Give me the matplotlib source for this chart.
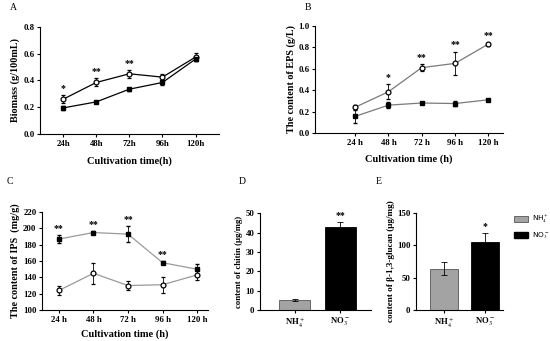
import numpy as np
import matplotlib
matplotlib.use("Agg")
import matplotlib.pyplot as plt
from matplotlib.patches import Patch

plt.rcParams['font.family'] = ['Liberation Serif', 'DejaVu Serif']
plt.rcParams['mathtext.fontset'] = 'stix'

# ---- data ----
times_a = ["24h", "48h", "72h", "96h", "120h"]
times = ["24 h", "48 h", "72 h", "96 h", "120 h"]

bio_no3 = [0.26, 0.385, 0.45, 0.425, 0.575]
bio_no3_err = [0.03, 0.03, 0.03, 0.025, 0.03]
bio_nh4 = [0.195, 0.24, 0.335, 0.385, 0.56]
bio_nh4_err = [0.015, 0.01, 0.01, 0.02, 0.012]
bio_stars = ["*", "**", "**", "", ""]

eps_no3 = [0.24, 0.385, 0.61, 0.65, 0.83]
eps_no3_err = [0.02, 0.07, 0.03, 0.11, 0.015]
eps_nh4 = [0.155, 0.26, 0.28, 0.275, 0.31]
eps_nh4_err = [0.06, 0.03, 0.01, 0.02, 0.01]
eps_stars = ["", "*", "**", "**", "**"]

ips_nh4 = [187, 195, 193, 158, 150]
ips_nh4_err = [5, 2, 10, 2, 6]
ips_no3 = [124, 145, 130, 131, 143]
ips_no3_err = [5, 13, 6, 10, 6]
ips_stars = ["**", "**", "**", "**", ""]

ions = ["NH$_4^+$", "NO$_3^-$"]
chitin = [5, 43]
chitin_err = [0.5, 2.5]
chitin_stars = ["", "**"]
glucan = [64, 106]
glucan_err = [10, 13]
glucan_stars = ["", "*"]

fig = plt.figure(figsize=(5.5, 3.41), dpi=100)


def style(ax):
    ax.spines['top'].set_visible(False)
    ax.spines['right'].set_visible(False)
    ax.tick_params(direction='out', length=2.5, width=0.8, labelsize=6.3, pad=1.5)
    for lab in ax.get_xticklabels() + ax.get_yticklabels():
        lab.set_fontweight('bold')


def line_panel(ax, labels, up, up_err, lo, lo_err, stars, lcolor, xlim, ylim, yticks, fmt):
    x = np.arange(len(labels))
    ax.errorbar(x, up, yerr=up_err, color=lcolor, lw=0.9, marker='o', ms=3.5,
                mfc='white', mec='black', mew=0.9, ecolor='black', elinewidth=0.6, capsize=1.5)
    ax.errorbar(x, lo, yerr=lo_err, color=lcolor, lw=0.9, marker='s', ms=3.5,
                mfc='black', mec='black', ecolor='black', elinewidth=0.6, capsize=1.5)
    top = np.maximum(np.array(up) + np.array(up_err), np.array(lo) + np.array(lo_err))
    off = (ylim[1] - ylim[0]) * 0.02
    for i, s in enumerate(stars):
        if s:
            ax.text(x[i], top[i] + off, s, ha='center', va='bottom', fontsize=7, fontweight='bold')
    ax.set_xticks(x)
    ax.set_xticklabels(labels)
    ax.set_xlim(*xlim)
    ax.set_ylim(*ylim)
    ax.set_yticks(yticks)
    ax.set_yticklabels([fmt.format(v) for v in yticks])
    style(ax)


def bar_panel(ax, vals, errs, stars, xlim, ylim, yticks):
    x = np.arange(len(vals))
    colors = ['#a3a3a3', 'black']
    ax.bar(x, vals, width=0.68, color=colors, edgecolor=['#555555', 'black'], lw=0.6,
           yerr=errs, error_kw=dict(ecolor='black', elinewidth=0.6, capsize=2.5, capthick=0.6))
    off = (ylim[1] - ylim[0]) * 0.02
    for i, s in enumerate(stars):
        if s:
            ax.text(x[i], vals[i] + errs[i] + off, s, ha='center', va='bottom', fontsize=7, fontweight='bold')
    ax.set_xticks(x)
    ax.set_xticklabels(ions)
    ax.set_xlim(*xlim)
    ax.set_ylim(*ylim)
    ax.set_yticks(yticks)
    style(ax)
    return ax


# A
axA = fig.add_axes([0.0727, 0.607, 0.325, 0.314])
line_panel(axA, times_a, bio_no3, bio_no3_err, bio_nh4, bio_nh4_err, bio_stars, 'black',
           (-0.7, 4.7), (0, 0.8), [0, 0.2, 0.4, 0.6, 0.8], "{:.1f}")
axA.set_ylabel("Biomass (g/100mL)", fontsize=7.3, fontweight='bold', labelpad=2)
axA.set_xlabel("Cultivation time(h)", fontsize=7.5, fontweight='bold', labelpad=6)

# B
axB = fig.add_axes([0.573, 0.610, 0.342, 0.314])
line_panel(axB, times, eps_no3, eps_no3_err, eps_nh4, eps_nh4_err, eps_stars, '#7a7a7a',
           (-1.2, 4.45), (0, 1.0), [0, 0.2, 0.4, 0.6, 0.8, 1.0], "{:.1f}")
axB.set_ylabel("The content of EPS (g/L)", fontsize=7.3, fontweight='bold', labelpad=2)
axB.set_xlabel("Cultivation time (h)", fontsize=7.5, fontweight='bold', labelpad=6)

# C
axC = fig.add_axes([0.0764, 0.0909, 0.302, 0.287])
line_panel(axC, times, ips_no3, ips_no3_err, ips_nh4, ips_nh4_err, ips_stars, '#9a9a9a',
           (-0.49, 4.32), (100, 220), list(range(100, 221, 20)), "{:d}")
axC.set_ylabel("The content of IPS  (mg/g)", fontsize=7.3, fontweight='bold', labelpad=2)
axC.set_xlabel("Cultivation time (h)", fontsize=7.5, fontweight='bold', labelpad=4)

# D
axD = fig.add_axes([0.473, 0.0909, 0.202, 0.284])
bar_panel(axD, chitin, chitin_err, chitin_stars, (-0.76, 1.68), (0, 50), [0, 10, 20, 30, 40, 50])
axD.set_ylabel("content of chitin (μg/mg)", fontsize=6.3, fontweight='bold', labelpad=2)

# E
axE = fig.add_axes([0.756, 0.0909, 0.158, 0.284])
bar_panel(axE, glucan, glucan_err, glucan_stars, (-0.7, 1.43), (0, 150), [0, 50, 100, 150])
axE.set_ylabel("content of β-1,3-glucan (μg/mg)", fontsize=6.6, fontweight='bold', labelpad=1)

# legend for E
handles = [Patch(facecolor='#a3a3a3', edgecolor='#555555', lw=0.6, label=ions[0]),
           Patch(facecolor='black', edgecolor='black', label=ions[1])]
fig.legend(handles=handles, loc='upper left', bbox_to_anchor=(0.93, 0.382), frameon=False,
           prop={'family': 'DejaVu Sans', 'size': 5.3}, handlelength=1.8, handleheight=0.9,
           labelspacing=0.7, borderaxespad=0, handletextpad=0.6)

# panel letters
for letter, (px, py) in zip("ABCDE", [(13, 8), (308, 8), (10, 182), (242, 182), (379, 182)]):
    fig.text(px / 550, 1 - py / 341, letter, fontsize=7, ha='center', va='center')

fig.savefig("out.png", dpi=100)
